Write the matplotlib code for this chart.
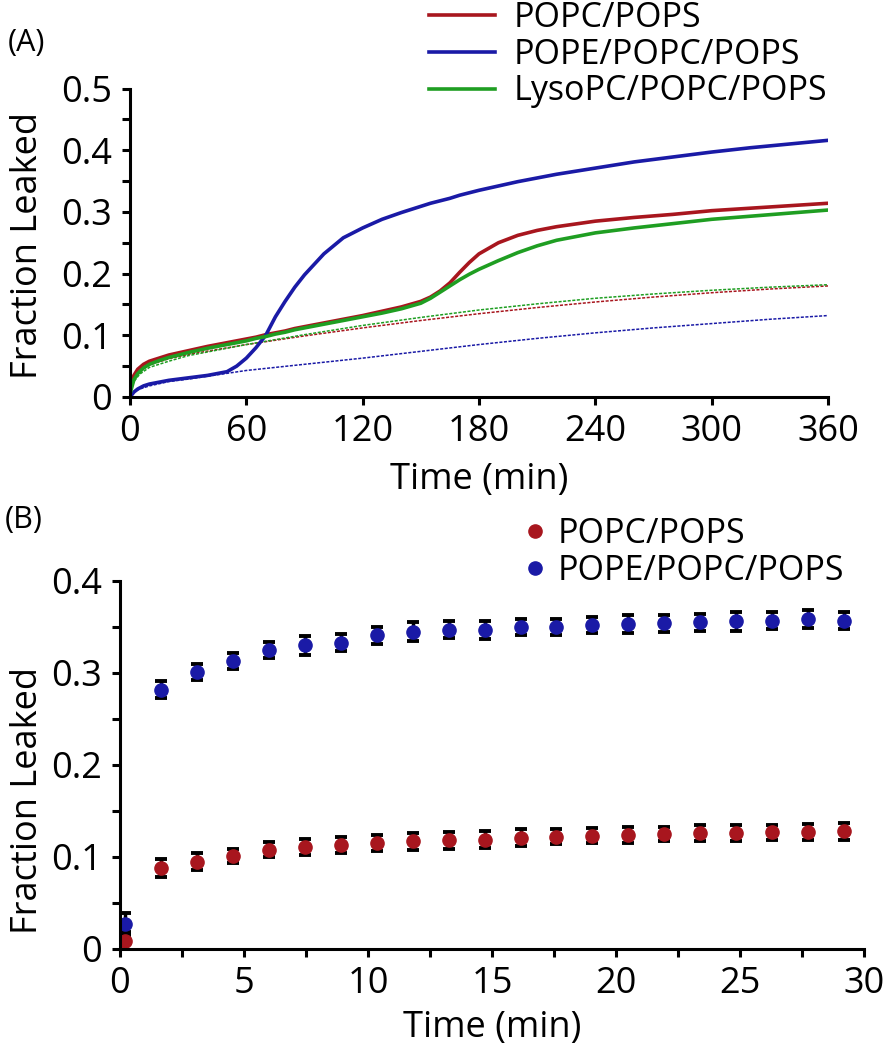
import numpy as np
import matplotlib
matplotlib.use("Agg")
import matplotlib.pyplot as plt
from matplotlib.lines import Line2D
from matplotlib.ticker import MultipleLocator

plt.rcParams['font.family'] = ['Open Sans', 'DejaVu Sans']

# Panel A: leakage curves (min, fraction leaked)
t_a = [0, 2, 4, 7, 10, 15, 20, 30, 40, 50, 55, 60, 65, 70, 75, 80, 85, 90,
       100, 110, 120, 130, 140, 150, 155, 160, 165, 170, 175, 180, 190, 200,
       210, 220, 240, 260, 280, 300, 320, 340, 360]
popc_a = [0.010, 0.035, 0.045, 0.053, 0.058, 0.063, 0.068, 0.075, 0.082, 0.088,
          0.091, 0.094, 0.097, 0.101, 0.104, 0.107, 0.111, 0.114, 0.120, 0.126,
          0.132, 0.139, 0.146, 0.155, 0.162, 0.172, 0.185, 0.202, 0.218, 0.232,
          0.250, 0.262, 0.270, 0.276, 0.285, 0.291, 0.296, 0.302, 0.306, 0.310,
          0.314]
pope_a = [0.000, 0.008, 0.013, 0.018, 0.021, 0.024, 0.027, 0.031, 0.035, 0.041,
          0.050, 0.063, 0.080, 0.100, 0.130, 0.155, 0.178, 0.198, 0.232, 0.258,
          0.274, 0.288, 0.299, 0.309, 0.314, 0.318, 0.322, 0.327, 0.331, 0.335,
          0.342, 0.349, 0.355, 0.361, 0.371, 0.381, 0.389, 0.397, 0.404, 0.410,
          0.416]
lyso_a = [0.005, 0.028, 0.038, 0.047, 0.053, 0.059, 0.064, 0.072, 0.079, 0.085,
          0.088, 0.091, 0.095, 0.098, 0.102, 0.105, 0.109, 0.112, 0.118, 0.124,
          0.130, 0.136, 0.143, 0.152, 0.160, 0.170, 0.180, 0.190, 0.199, 0.207,
          0.221, 0.234, 0.245, 0.254, 0.266, 0.274, 0.281, 0.288, 0.293, 0.298,
          0.303]

# Panel A: controls (dotted)
t_ctrl = [0, 2, 5, 10, 20, 30, 45, 60, 90, 120, 150, 180, 210, 240, 270, 300, 330, 360]
popc_ctrl = [0.010, 0.030, 0.042, 0.052, 0.062, 0.069, 0.077, 0.085, 0.099, 0.112,
             0.124, 0.135, 0.145, 0.154, 0.162, 0.169, 0.175, 0.180]
pope_ctrl = [0.000, 0.008, 0.013, 0.018, 0.025, 0.029, 0.036, 0.043, 0.053, 0.063,
             0.074, 0.085, 0.095, 0.104, 0.112, 0.119, 0.126, 0.132]
lyso_ctrl = [0.005, 0.025, 0.037, 0.048, 0.058, 0.067, 0.076, 0.085, 0.101, 0.116,
             0.129, 0.141, 0.151, 0.160, 0.167, 0.173, 0.178, 0.182]

# Panel B: points with error bars
t_b = [0.2, 1.65, 3.1, 4.55, 6.0, 7.45, 8.9, 10.35, 11.8, 13.25, 14.7, 16.15,
       17.6, 19.05, 20.5, 21.95, 23.4, 24.85, 26.3, 27.75, 29.2]
popc_b = [0.009, 0.088, 0.095, 0.101, 0.108, 0.111, 0.113, 0.115, 0.117, 0.118,
          0.119, 0.121, 0.122, 0.123, 0.124, 0.125, 0.126, 0.126, 0.127, 0.127, 0.128]
popc_err = [0.010, 0.010, 0.009, 0.008, 0.008, 0.009, 0.009, 0.009, 0.009, 0.009,
            0.009, 0.009, 0.008, 0.008, 0.009, 0.008, 0.009, 0.009, 0.008, 0.009, 0.009]
pope_b = [0.027, 0.282, 0.301, 0.313, 0.325, 0.330, 0.333, 0.341, 0.345, 0.347,
          0.347, 0.350, 0.350, 0.352, 0.353, 0.354, 0.355, 0.356, 0.357, 0.359, 0.357]
pope_err = [0.012, 0.009, 0.009, 0.009, 0.009, 0.010, 0.009, 0.009, 0.010, 0.009,
            0.010, 0.009, 0.009, 0.009, 0.010, 0.009, 0.009, 0.010, 0.009, 0.010, 0.009]

labels = ['POPC/POPS', 'POPE/POPC/POPS', 'LysoPC/POPC/POPS']
red, blue, green = '#a8161e', '#1a1aa6', '#1f9e22'

W, H = 887, 1050
fig = plt.figure(figsize=(W / 100, H / 100), dpi=100)
ax1 = fig.add_axes([130 / W, 1 - 397 / H, 698 / W, 308.5 / H])
ax2 = fig.add_axes([120 / W, 1 - 949 / H, 744 / W, 368 / H])

fs_tick = 26
fs_lab = 26
fs_leg = 24.5

def style(ax):
    for s in ['top', 'right']:
        ax.spines[s].set_visible(False)
    for s in ['left', 'bottom']:
        ax.spines[s].set_linewidth(2.2)
    ax.tick_params(which='both', direction='out', width=2.2, length=6,
                   labelsize=fs_tick)
    ax.tick_params(axis='x', pad=6)
    ax.tick_params(axis='y', pad=7)

# --- (A) ---
ax1.plot(t_ctrl, popc_ctrl, color=red, lw=1.1, ls=(0, (2, 1)))
ax1.plot(t_ctrl, lyso_ctrl, color=green, lw=1.1, ls=(0, (2, 1)))
ax1.plot(t_ctrl, pope_ctrl, color=blue, lw=1.1, ls=(0, (2, 1)))
l1, = ax1.plot(t_a, popc_a, color=red, lw=2.6)
l2, = ax1.plot(t_a, pope_a, color=blue, lw=2.6)
l3, = ax1.plot(t_a, lyso_a, color=green, lw=2.6)
ax1.set_xlim(0, 360)
ax1.set_ylim(0, 0.5)
ax1.set_xticks([0, 60, 120, 180, 240, 300, 360])
ax1.set_yticks([0, 0.1, 0.2, 0.3, 0.4, 0.5])
ax1.set_yticklabels(['0', '0.1', '0.2', '0.3', '0.4', '0.5'])
ax1.yaxis.set_minor_locator(MultipleLocator(0.05))
style(ax1)
ax1.set_xlabel('Time (min)', fontsize=fs_lab, va='center')
ax1.set_ylabel('Fraction Leaked', fontsize=fs_lab, va='center')
ax1.xaxis.set_label_coords(0.5, (397 - 480) / 308.5)
ax1.yaxis.set_label_coords((28 - 130) / 698, 0.49)
ax1.legend([l1, l2, l3], labels, loc='upper left',
           bbox_to_anchor=(429 / W, 1 - 1 / H), bbox_transform=fig.transFigure,
           frameon=False, fontsize=fs_leg, handlelength=1.95, labelspacing=0.08,
           handletextpad=0.55, borderpad=0, borderaxespad=0)
fig.text(8 / W, 1 - 43 / H, '(A)', fontsize=22, va='center')

# --- (B) ---
ax2.errorbar(t_b, pope_b, yerr=pope_err, fmt='o', color=blue, ms=9.5,
             ecolor='black', elinewidth=2.5, capsize=4.5, capthick=2.8, mec=blue)
ax2.errorbar(t_b, popc_b, yerr=popc_err, fmt='o', color=red, ms=9.5,
             ecolor='black', elinewidth=2.5, capsize=4.5, capthick=2.8, mec=red)
ax2.set_xlim(0, 30)
ax2.set_ylim(0, 0.4)
ax2.set_xticks([0, 5, 10, 15, 20, 25, 30])
ax2.set_yticks([0, 0.1, 0.2, 0.3, 0.4])
ax2.set_yticklabels(['0', '0.1', '0.2', '0.3', '0.4'])
ax2.xaxis.set_minor_locator(MultipleLocator(2.5))
ax2.yaxis.set_minor_locator(MultipleLocator(0.05))
style(ax2)
ax2.set_xlabel('Time (min)', fontsize=fs_lab, va='center')
ax2.set_ylabel('Fraction Leaked', fontsize=fs_lab, va='center')
ax2.xaxis.set_label_coords(0.5, (949 - 1028) / 368)
ax2.yaxis.set_label_coords((28 - 120) / 744, (949 - 800) / 368)
h_b = [Line2D([], [], ls='none', marker='o', ms=9.5, color=red),
       Line2D([], [], ls='none', marker='o', ms=9.5, color=blue)]
ax2.legend(h_b, labels[:2], loc='upper left',
           bbox_to_anchor=(525 / W, 1 - 517 / H), bbox_transform=fig.transFigure,
           frameon=False, fontsize=fs_leg, handlelength=0.6, labelspacing=0.08,
           handletextpad=0.35, borderpad=0, borderaxespad=0)
fig.text(5 / W, 1 - 520 / H, '(B)', fontsize=22, va='center')

fig.savefig('out.png', dpi=100)
